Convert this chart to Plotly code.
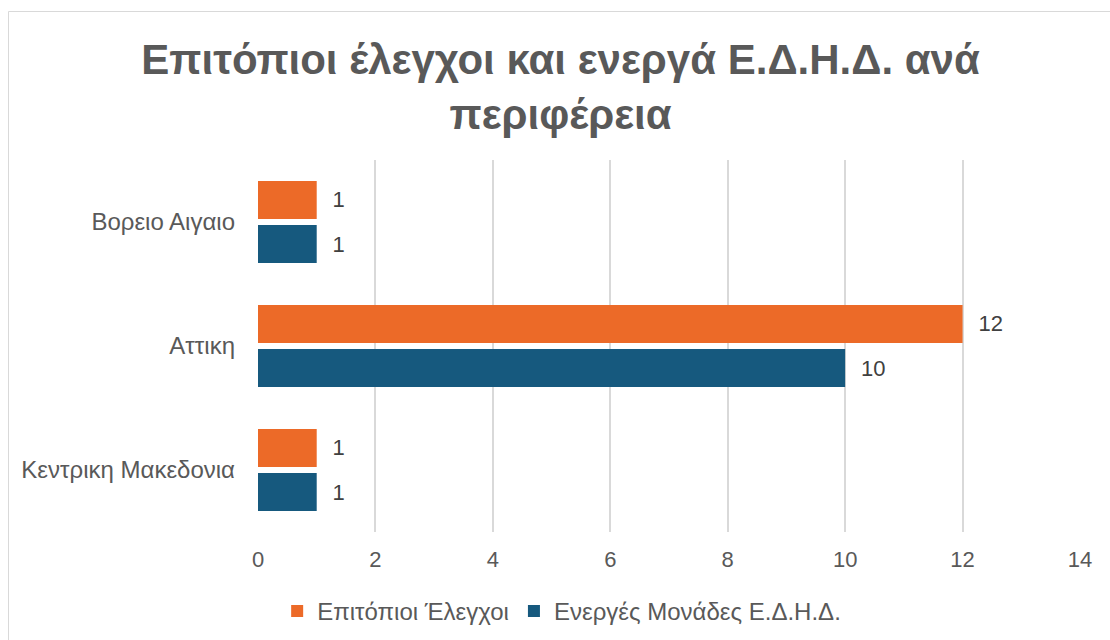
import plotly.graph_objects as go

categories = ["Κεντρικη Μακεδονια", "Αττικη", "Βορειο Αιγαιο"]
series_names = ["Επιτόπιοι Έλεγχοι", "Ενεργές Μονάδες Ε.Δ.Η.Δ."]
checks = [1, 12, 1]
units = [1, 10, 1]
x_ticks = [0, 2, 4, 6, 8, 10, 12, 14]

W, H = 1110, 640
ml, mr, mt, mb = 258, 30, 160, 108
pw, ph = W - ml - mr, H - mt - mb
FONT = "Liberation Sans, Arial, sans-serif"
NUM_SIZE = 22
TEXT_SIZE = 24

fig = go.Figure()
fig.add_trace(go.Bar(
    y=categories, x=units, orientation="h", name=series_names[1],
    marker=dict(color="#16597E", line=dict(width=0)),
    text=units, texttemplate="\u2002\u200a%{x}", textposition="outside",
    textfont=dict(size=NUM_SIZE, color="#404040"), cliponaxis=False, legendrank=2,
))
fig.add_trace(go.Bar(
    y=categories, x=checks, orientation="h", name=series_names[0],
    marker=dict(color="#EC6A28", line=dict(width=0)),
    text=checks, texttemplate="\u2002\u200a%{x}", textposition="outside",
    textfont=dict(size=NUM_SIZE, color="#404040"), cliponaxis=False, legendrank=1,
))

def px_to_paper_x(px):
    return (px - ml) / pw

def px_to_paper_y(py):
    return (H - mb - py) / ph

fig.add_shape(type="rect", xref="paper", yref="paper",
              x0=px_to_paper_x(8.5), x1=px_to_paper_x(1120),
              y0=px_to_paper_y(660), y1=px_to_paper_y(11.5),
              line=dict(color="#D9D9D9", width=1), layer="below")

fig.update_layout(
    width=W, height=H,
    margin=dict(l=ml, r=mr, t=mt, b=mb),
    paper_bgcolor="white", plot_bgcolor="white",
    font=dict(family=FONT, color="#595959", size=TEXT_SIZE),
    title=dict(
        text="<b>Επιτόπιοι έλεγχοι και ενεργά Ε.Δ.Η.Δ. ανά<br>περιφέρεια</b>",
        x=0.505, xref="container", xanchor="center",
        y=1 - 74 / H, yref="container", yanchor="top",
        font=dict(size=42, color="#595959", family=FONT),
    ),
    barmode="group", bargap=0.29, bargroupgap=0.14,
    xaxis=dict(range=[0, 14], tickvals=x_ticks, showgrid=True, gridcolor="#D9D9D9",
               gridwidth=2, zeroline=False, showline=False, ticks="",
               tickfont=dict(size=NUM_SIZE, color="#595959"), ticklabelstandoff=12),
    yaxis=dict(showgrid=False, zeroline=False, showline=False, ticks="",
               tickfont=dict(size=TEXT_SIZE, color="#595959"), ticklabelstandoff=22),
    showlegend=True,
    legend=dict(orientation="h", xref="container", x=0.506, xanchor="center",
                yref="container", y=1 - 589 / H, yanchor="top",
                font=dict(size=TEXT_SIZE, color="#595959"), traceorder="normal",
                itemwidth=30, tracegroupgap=0),
)
fig.write_html("out.html", post_script="document.body.style.margin='0';",
               config={"displayModeBar": False})
